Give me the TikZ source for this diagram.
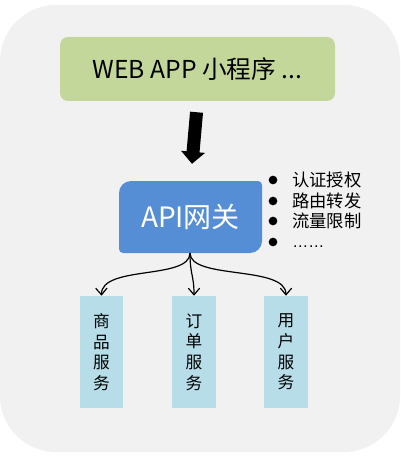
\documentclass[tikz,border=0pt]{standalone}
\usepackage{fontspec}
\setmainfont{Noto Sans CJK SC}
\newfontfamily\latinfont{Liberation Sans}
\usetikzlibrary{arrows.meta}
\definecolor{bggray}{HTML}{F1F1F1}
\definecolor{appgreen}{HTML}{C4D79B}
\definecolor{apiblue}{HTML}{558ED5}
\definecolor{svcblue}{HTML}{B7DEE8}
\tikzset{
  svcbox/.style={fill=svcblue, minimum width=32.6pt, minimum height=84pt, inner sep=0pt,
    align=center, font=\fontsize{12.5pt}{15.5pt}\selectfont},
  bulletdot/.style={circle, fill=black, minimum size=6.5pt, inner sep=0pt},
  bullettext/.style={anchor=west, inner sep=0pt, font=\fontsize{13pt}{15pt}\selectfont},
  thinarrow/.style={-{Straight Barb[length=5pt,width=8.5pt]}, line width=0.9pt, black}
}
\begin{document}
\begin{tikzpicture}[x=0.75pt,y=-0.75pt]
\useasboundingbox (0,0) rectangle (400,456);
% background
\fill[bggray, rounded corners=42pt] (0,5) rectangle (400,452);
% top node
\node[fill=appgreen, rounded corners=6pt, minimum width=206.25pt, minimum height=48pt,
  font=\fontsize{18.5pt}{21pt}\selectfont] (web) at (197.5,69) {WEB APP 小程序 ...};
% API gateway shape
\fill[apiblue] (119,193) arc[start angle=180,end angle=270,radius=12] -- (258,181)
  arc[start angle=270,end angle=360,radius=4] -- (262,241)
  arc[start angle=0,end angle=90,radius=12] -- (123,253)
  arc[start angle=90,end angle=180,radius=4] -- cycle;
\node[minimum width=107.25pt, minimum height=54pt, inner sep=0pt, text=white,
  font=\fontsize{21pt}{24pt}\selectfont] (api) at (190.5,217) {API网关};
% thick arrow
\draw[line width=9.75pt, -{Triangle[length=9pt,width=17.5pt]}, shorten <=8.25pt, shorten >=12.75pt]
  (web.south) -- (api.north);
% bullet list
\node[bulletdot] (b1) at (273,180) {};
\node[bulletdot] (b2) at (273,201) {};
\node[bulletdot] (b3) at (273,221) {};
\node[bulletdot] (b4) at (273,242) {};
\node[bullettext] (t1) at (292,180) {认证授权};
\node[bullettext] (t2) at (292,201) {路由转发};
\node[bullettext] (t3) at (292,221) {流量限制};
\node[bullettext, anchor=base west] (t4) at (292,247) {\latinfont\fontsize{12pt}{14pt}\selectfont ……};
% services
\node[svcbox] (s1) at (101.5,352) {商\\品\\服\\务};
\node[svcbox] (s2) at (194,352) {订\\单\\服\\务};
\node[svcbox] (s3) at (286,352) {用\\户\\服\\务};
% connectors
\coordinate (src) at (190,253);
\draw[thinarrow] (src) .. controls (190,280) and (101,265) .. (s1.north);
\draw[thinarrow] (src) .. controls (190,275) and (194,275) .. (s2.north);
\draw[thinarrow] (src) .. controls (190,280) and (286,265) .. (s3.north);
\end{tikzpicture}
\end{document}
